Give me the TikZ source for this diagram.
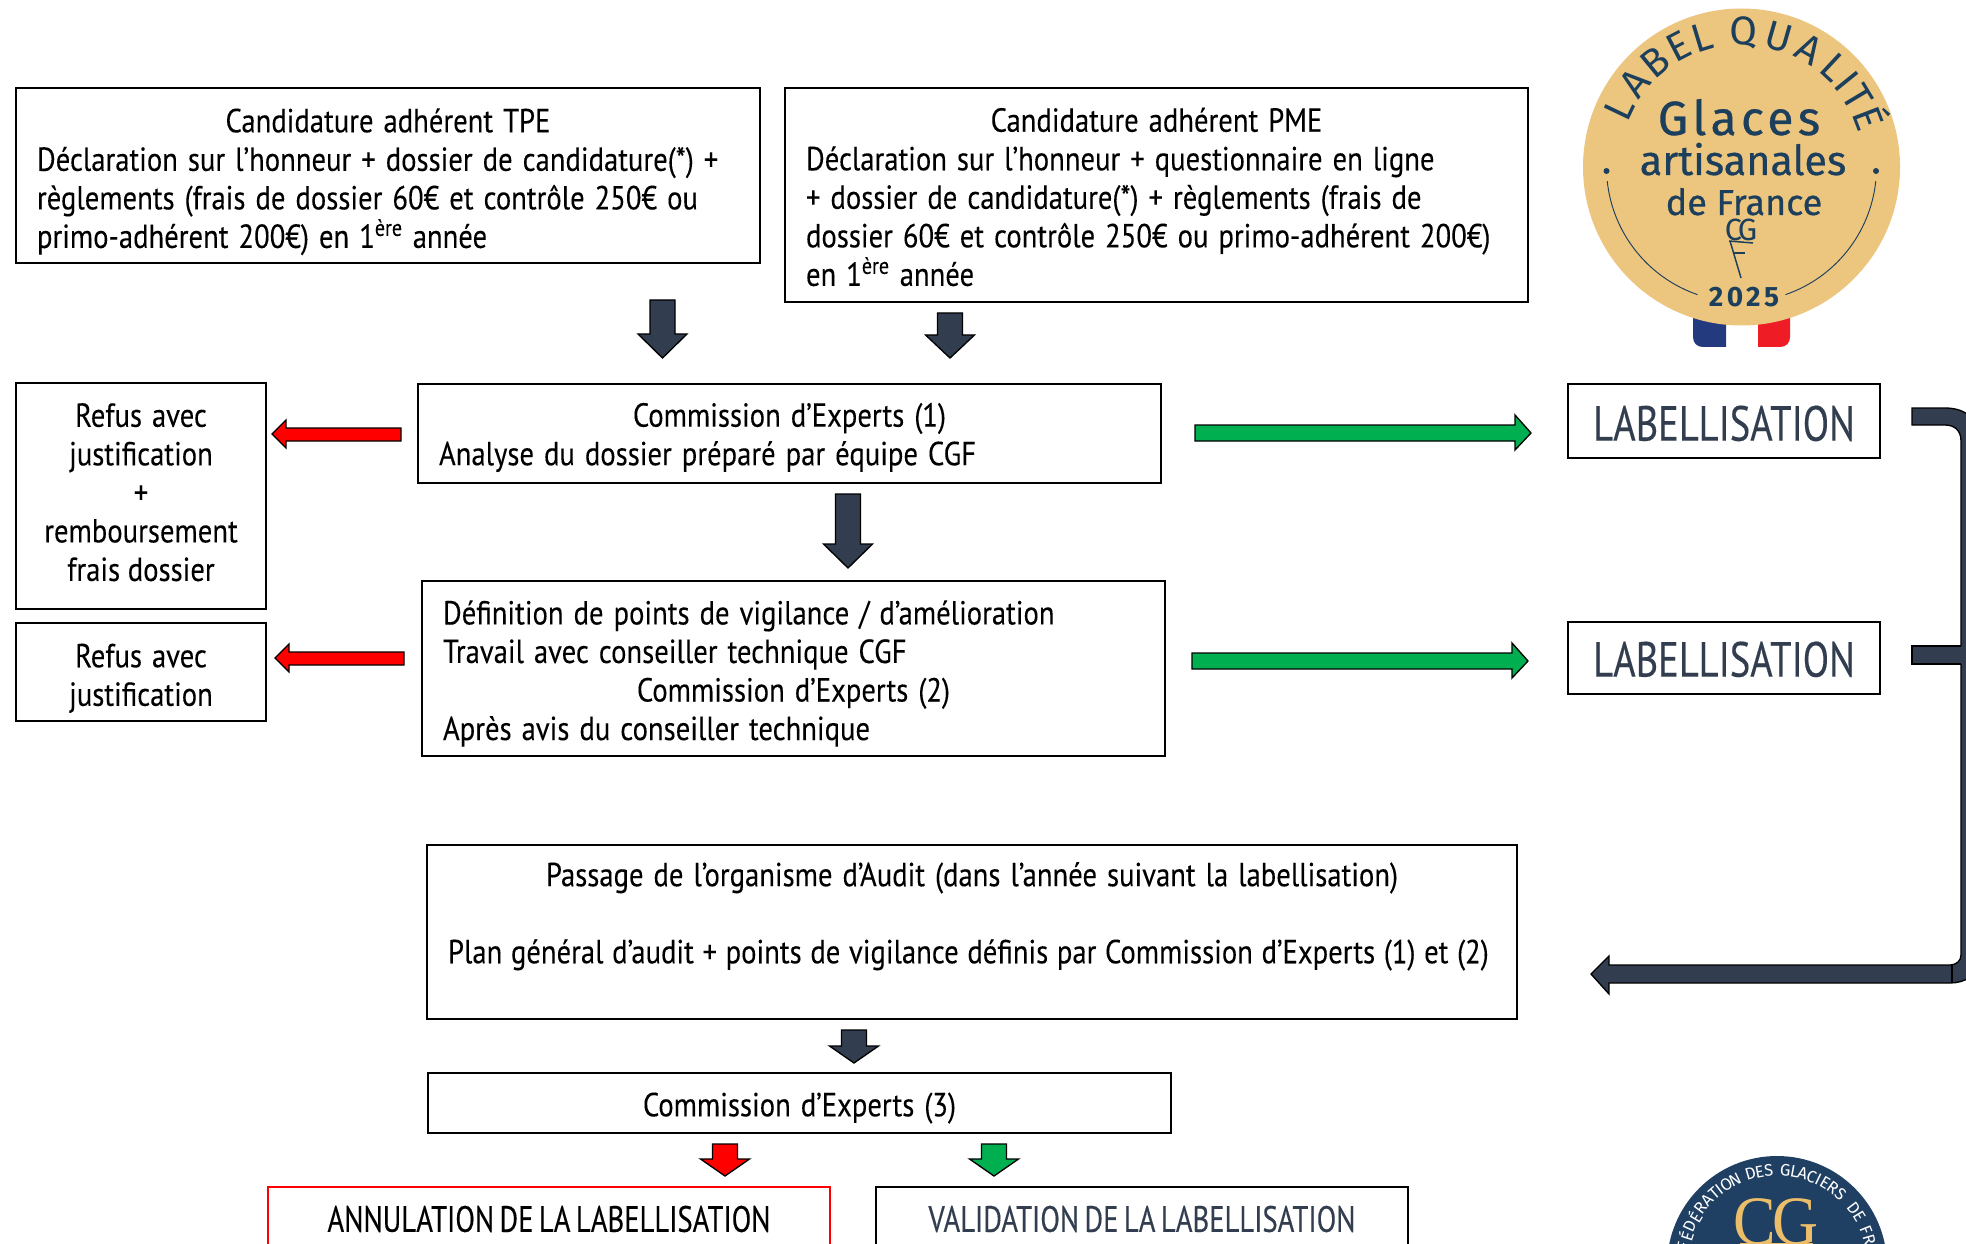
\documentclass[tikz,border=0pt]{standalone}
\usepackage{fontspec}
\setmainfont{PT Sans}
\newfontfamily\dinfont[FakeStretch=0.86,FakeBold=0.15]{PT Sans}
\newfontfamily\logofont[FakeBold=0.6]{Fira Sans}
\newfontfamily\logothin{Fira Sans}
\newfontfamily\capsfont[FakeStretch=0.78,WordSpace=0.7,FakeBold=0.25]{PT Sans}
\newfontfamily\serfont[FakeStretch=0.92]{Liberation Serif}
\definecolor{navy}{HTML}{323E4F}
\definecolor{gold}{HTML}{ECC57F}
\definecolor{logoblue}{HTML}{1B3F5C}
\definecolor{fedblue}{HTML}{1F3F63}
\definecolor{fedgold}{HTML}{EDBE6A}
\definecolor{okgreen}{HTML}{00B050}
\definecolor{flagblue}{HTML}{233A7E}
\definecolor{flagred}{HTML}{EE1C25}
\newcommand{\wsp}{\spaceskip=0.3em\xspaceskip=0.3em\relax}
\newcommand{\wsptight}{\spaceskip=0.26em\xspaceskip=0.26em\relax}
\tikzset{
  bodytext/.style={font=\dinfont\fontsize{25}{28.9}\selectfont,inner ysep=0pt},
  box/.style={draw=black,line width=1.4pt,fill=white,inner sep=0pt},
  ltext/.code={\pgfmathsetlengthmacro\tw{#1*0.75pt-31.5pt}\tikzset{inner xsep=15.75pt,text width=\tw,align=left,bodytext}},
  ctext/.style={bodytext,align=center,inner xsep=0pt},
  dims/.style n args={2}{minimum width=#1*0.75pt,minimum height=#2*0.75pt},
  blk/.style={draw=black,line width=1pt,fill=navy,line join=miter},
  redblk/.style={blk,fill=red},
  grnblk/.style={blk,fill=okgreen},
  bigcaps/.style={text=navy,inner sep=0pt,font=\capsfont\fontsize{37}{40}\selectfont},
  lowcaps/.style={inner sep=0pt,font=\capsfont\fontsize{27.5}{30}\selectfont},
  arclet/.style={text=logoblue,font=\logothin\fontsize{30}{32}\selectfont,anchor=base,inner sep=0pt},
  fedlet/.style={text=white,font=\logothin\fontsize{12.5}{14}\selectfont,inner sep=0pt},
  logotxt/.style={text=logoblue,inner sep=0pt,anchor=base}
}
\newcommand{\vblk}[5]{% style, cx, top, base, tip
  \draw[#1] ({#2-12.5},#3) -- ({#2+12.5},#3) -- ({#2+12.5},#4) -- ({#2+24.5},#4) -- (#2,#5) -- ({#2-24.5},#4) -- ({#2-12.5},#4) -- cycle;}
\begin{document}
\begin{tikzpicture}[x=0.75pt,y=-0.75pt]
\useasboundingbox (0,0) rectangle (1966,1244);
\clip (0,0) rectangle (1966,1244);

% boxes
\node[box,dims={744}{175}] (tpe) at (388,175.5) {};
\node[ltext=744] (tpetxt) at ([yshift=-4.7pt]tpe.center) {\wsp\makebox[\hsize][c]{Candidature adhérent TPE}\\
Déclaration sur l’honneur + dossier de candidature(*) +\\
règlements (frais de dossier 60€ et contrôle 250€ ou\\
primo-adhérent 200€) en 1\textsuperscript{ère} année};
\node[box,dims={743}{214}] (pme) at (1156.5,195) {};
\node[ltext=743] (pmetxt) at ([yshift=-1.5pt]pme.center) {\wsp\makebox[\hsize][c]{Candidature adhérent PME}\\
Déclaration sur l’honneur + questionnaire en ligne\\
+ dossier de candidature(*) + règlements (frais de\\
dossier 60€ et contrôle 250€ ou primo-adhérent 200€)\\
en 1\textsuperscript{ère} année};
\node[box,dims={743}{99}] (exp1) at (789.5,433.5) {};
\node[ltext=743] (exp1txt) at ([yshift=-3pt]exp1.center) {\wsp\makebox[\hsize][c]{Commission d’Experts (1)}\\
Analyse du dossier préparé par équipe CGF};
\node[box,dims={250}{226}] (ref1) at (141,496) {};
\node[ctext] (ref1txt) at ([yshift=2.8pt]ref1.center) {\wsp Refus avec\\justification\\+\\remboursement\\frais dossier};
\node[box,dims={250}{98}] (ref2) at (141,672) {};
\node[ctext] (ref2txt) at ([yshift=-4.7pt]ref2.center) {\wsp Refus avec\\justification};
\node[box,dims={743}{175}] (def) at (793.5,668.5) {};
\node[ltext=743] (deftxt) at ([yshift=-3.8pt]def.center) {\wsp Définition de points de vigilance / d’amélioration\\
Travail avec conseiller technique CGF\\
\makebox[\hsize][c]{Commission d’Experts (2)}\\
Après avis du conseiller technique};
\node[box,dims={1090}{174}] (audit) at (972,932) {};
\node[ltext=1090] (audittxt) at (audit.center) {\wsp\makebox[\hsize][c]{Passage de l’organisme d’Audit (dans l’année suivant la labellisation)}\\
\mbox{}\\
\wsptight\mbox{Plan général d’audit + points de vigilance définis par Commission d’Experts (1) et (2)}\\
\mbox{}};
\node[box,dims={743}{60}] (exp3) at (799.5,1103) {};
\node[ctext] (exp3txt) at ([yshift=-3.8pt]exp3.center) {\wsp Commission d’Experts (3)};
\node[box,draw=red,dims={562}{64}] (annul) at (549,1219) {};
\node[lowcaps] (annultxt) at (annul.center) {ANNULATION DE LA LABELLISATION};
\node[box,dims={532}{64}] (valid) at (1142,1219) {};
\node[lowcaps,text=navy] (validtxt) at (valid.center) {VALIDATION DE LA LABELLISATION};
\node[box,dims={312}{74}] (lab1) at (1724,421) {};
\node[bigcaps] (lab1txt) at ([yshift=-1.8pt]lab1.center) {LABELLISATION};
\node[box,dims={312}{72}] (lab2) at (1724,658) {};
\node[bigcaps] (lab2txt) at ([yshift=-1pt]lab2.center) {LABELLISATION};

% vertical block arrows
\vblk{blk}{662.5}{300}{334}{358}
\vblk{blk}{950}{313}{335}{358}
\vblk{blk}{848}{494}{544}{568}
\vblk{blk}{854}{1030}{1046}{1063}
\vblk{redblk}{725}{1144}{1159}{1176}
\vblk{grnblk}{994}{1144}{1159}{1176}

% horizontal block arrows
\draw[redblk] (401,428) -- (286,428) -- (286,420) -- (272,434) -- (286,448) -- (286,441) -- (401,441) -- cycle;
\draw[redblk] (404,652) -- (289,652) -- (289,644) -- (275,658) -- (289,672) -- (289,665) -- (404,665) -- cycle;
\draw[grnblk] (1195,425) -- (1515,425) -- (1515,415) -- (1531,433) -- (1515,450) -- (1515,441) -- (1195,441) -- cycle;
\draw[grnblk] (1192,653) -- (1512,653) -- (1512,643) -- (1528,661) -- (1512,678) -- (1512,669) -- (1192,669) -- cycle;

% feedback bent arrow
\draw[blk] (1912,408) -- (1945,408) .. controls (1965,408) and (1978,418) .. (1978,440) -- (1978,962)
  .. controls (1978,975) and (1965,983) .. (1950,983) -- (1609,983) -- (1609,994) -- (1591,974) -- (1609,956) -- (1609,965)
  -- (1950,965) .. controls (1956,965) and (1961,961) .. (1961,955) -- (1961,441)
  .. controls (1961,431) and (1955,425) .. (1945,425) -- (1912,425) -- cycle;
\fill[navy] (1912,646) rectangle (1962,664);
\draw[black,line width=1pt] (1961,646) -- (1912,646) -- (1912,664) -- (1961,664);
\draw[black,line width=1pt] (1952,965) -- (1952,983);

% quality label
\begin{scope}
  \fill[flagblue] (1726,300) -- (1693,300) -- (1693,337) .. controls (1693,343) and (1697,347) .. (1703,347) -- (1726,347) -- cycle;
  \fill[flagred] (1758,300) -- (1790,300) -- (1790,337) .. controls (1790,343) and (1786,347) .. (1780,347) -- (1758,347) -- cycle;
  \fill[gold] (1741.5,167) circle[radius=158.5];
  \foreach \ch/\ang in {L/154.5,A/141.7,B/129.4,E/117.4,L/106.9,Q/89,U/74,A/60,L/47,I/39,T/31,É/21}
    \node[arclet,rotate=\ang-90] at ({1741.5+122*cos(\ang)},{167-122*sin(\ang)}) {\ch};
  \node[logotxt,font=\logofont\fontsize{36}{37}\selectfont\addfontfeature{LetterSpace=9}] (gl) at (1739,135) {Glaces};
  \node[logotxt,font=\logofont\fontsize{31}{32}\selectfont] (art) at (1743,175) {artisanales};
  \node[logotxt,font=\logofont\fontsize{27}{28}\selectfont] (fr) at (1744,215) {de France};
  \node[logotxt,font=\logothin\bfseries\fontsize{21}{22}\selectfont\addfontfeature{LetterSpace=12}] (yr) at (1744,307) {2025};
  \fill[logoblue] (1606.5,171) circle[radius=3] (1876,171) circle[radius=3];
  \draw[logoblue,line width=0.7pt] ({1741.5+135*cos(186)},{167-135*sin(186)}) arc[start angle=186,end angle=251,x radius=135,y radius=-135];
  \draw[logoblue,line width=0.7pt] ({1741.5+135*cos(289)},{167-135*sin(289)}) arc[start angle=289,end angle=354,x radius=135,y radius=-135];
  \node[logotxt,font=\logothin\fontsize{23}{23}\selectfont\addfontfeature{LetterSpace=-12}] (cg) at (1741,241) {CG};
  \draw[logoblue,line width=1.1pt] (1729,241) -- (1753,243);
  \draw[logoblue,line width=1.1pt] (1730,241) -- (1741,278);
  \draw[logoblue,line width=1.1pt] (1734,253) -- (1745,253);
\end{scope}

% federation logo
\fill[fedblue] (1777,1266) circle[radius=110];
\foreach \ch/\ang in {F/168,É/162,D/155.5,É/149,R/143,A/137,T/131,I/127,O/122,N/116,D/106,E/100.5,S/95,G/85,L/79.5,A/74.5,C/69,I/64.5,E/60,R/54.5,S/48.5,D/37,E/31,F/22,R/16,A/10}
  \node[fedlet,rotate=\ang-90] at ({1777+96*cos(\ang)},{1266-96*sin(\ang)}) {\ch};
\fill[fedgold] (1740,1242.5) rectangle (1813,1244);
\node[inner sep=0pt,anchor=base,text=fedgold,font=\serfont\fontsize{52}{52}\selectfont\addfontfeature{LetterSpace=-4}] (fedcg) at (1776,1244) {CG};
\end{tikzpicture}
\end{document}
